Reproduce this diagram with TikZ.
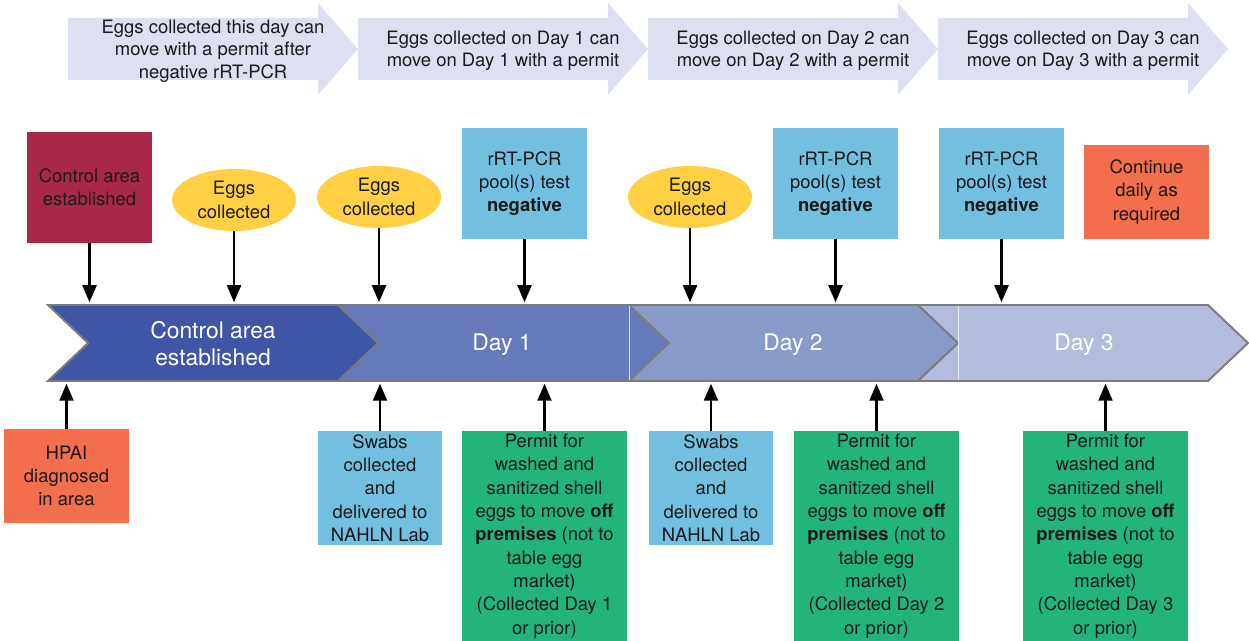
\documentclass[tikz,border=0pt]{standalone}
\usepackage{fontspec}
\setmainfont{TeX Gyre Heros}
\usetikzlibrary{arrows.meta,shapes.geometric}
\definecolor{bandlilac}{HTML}{DDE0F0}
\definecolor{ctrlred}{HTML}{A8284A}
\definecolor{eggyellow}{HTML}{FFD043}
\definecolor{pcrblue}{HTML}{72BFDF}
\definecolor{alertorange}{HTML}{F26E4C}
\definecolor{permitgreen}{HTML}{22B47B}
\definecolor{stagectrl}{HTML}{3F56A6}
\definecolor{dayA}{HTML}{6679BA}
\definecolor{dayB}{HTML}{8A9AC8}
\definecolor{dayC}{HTML}{B3BCDC}
\definecolor{stageedge}{HTML}{7B7B7B}
\definecolor{inkdark}{HTML}{1A1A1A}
\begin{document}
\begin{tikzpicture}[x=0.02cm, y=-0.02cm,
    every node/.style={font=\fontsize{10.5}{13.3}\selectfont, text=inkdark, align=center},
    band/.style={fill=bandlilac},
    stage/.style={draw=stageedge, line width=1.1pt, line join=miter},
    stagelabel/.style={text=white, font=\fontsize{13}{15.5}\selectfont},
    sqbox/.style={rectangle, inner sep=0pt, minimum width=2.5cm},
    eggs/.style={ellipse, fill=eggyellow, inner sep=0pt, minimum width=2.48cm, minimum height=1.24cm},
    conn/.style={line width=1.2pt, -{Triangle[length=3.4mm,width=2.8mm]}, shorten >=1pt}
  ]
  \useasboundingbox (0,0) rectangle (1249,641);

  % Permit windows along the top
  \foreach \x/\txt [count=\i] in {68/{Eggs collected this day can\\move with a permit after\\negative rRT-PCR},
      358/{Eggs collected on Day 1 can\\move on Day 1 with a permit},
      648/{Eggs collected on Day 2 can\\move on Day 2 with a permit},
      938/{Eggs collected on Day 3 can\\move on Day 3 with a permit}} {
      \fill[band] (\x,18) -- ++(250,0) -- ++(0,-15) -- ++(40,46) -- ++(-40,46) -- ++(0,-15) -- ++(-250,0) -- cycle;
      \node[font=\fontsize{10.5}{12.8}\selectfont] (move\i) at (\x+145,51) {\txt};
    }

  % Timeline stages (drawn right to left so each tip sits on top)
  \foreach \l/\r/\col in {918/1208/dayC, 629/918/dayB, 338/629/dayA} {
      \fill[\col] (\l,305) -- (\r,305) -- (\r+40,343) -- (\r,381) -- (\l,381) -- cycle;
      \draw[stage] (\l,305) -- (\r,305) -- (\r+40,343) -- (\r,381) -- (\l,381);
    }
  \draw[white!70!dayB, line width=0.5pt] (629,306) -- (629,380);
  \draw[white!70!dayC, line width=0.5pt] (958,306) -- (958,380);
  \draw[stage, fill=stagectrl] (48,305) -- (338,305) -- (378,343) -- (338,381) -- (48,381) -- (88,343) -- cycle;

  \node[stagelabel] (stage0) at (213,344) {Control area\\established};
  \node[stagelabel] (stage1) at (502,345) {Day 1};
  \node[stagelabel] (stage2) at (793,345) {Day 2};
  \node[stagelabel] (stage3) at (1084,345) {Day 3};

  \coordinate (tltop) at (0,304);
  \coordinate (tlbot) at (0,382);

  % Events above the timeline
  \node[sqbox, fill=ctrlred, minimum height=2.22cm] (ctrl) at (89.5,187.5) {Control area\\established};
  \node[eggs] (eggsA) at (234,200) {Eggs\\collected};
  \node[eggs] (eggsB) at (379,197) {Eggs\\collected};
  \node[sqbox, fill=pcrblue, minimum height=2.22cm] (pcrA) at (524.5,183.5) {rRT-PCR\\pool(s) test\\\textbf{negative}};
  \node[eggs] (eggsC) at (690,197) {Eggs\\collected};
  \node[sqbox, fill=pcrblue, minimum height=2.22cm] (pcrB) at (835.5,183.5) {rRT-PCR\\pool(s) test\\\textbf{negative}};
  \node[sqbox, fill=pcrblue, minimum height=2.22cm] (pcrC) at (1001.5,183.5) {rRT-PCR\\pool(s) test\\\textbf{negative}};
  \node[sqbox, fill=alertorange, minimum height=1.88cm] (cont) at (1146.5,192) {Continue\\daily as\\required};

  \foreach \n in {ctrl, eggsA, eggsB, pcrA, eggsC, pcrB, pcrC} {
      \draw[conn] (\n) -- (\n |- tltop);
    }

  % Events below the timeline
  \node[sqbox, fill=alertorange, minimum height=1.88cm] (hpai) at (66.5,476) {HPAI\\diagnosed\\in area};
  \node[sqbox, fill=pcrblue, minimum width=2.48cm, minimum height=2.28cm] (swabA) at (380,488) {Swabs\\collected\\and\\delivered to\\NAHLN Lab};
  \node[sqbox, fill=pcrblue, minimum width=2.48cm, minimum height=2.28cm] (swabB) at (711,488) {Swabs\\collected\\and\\delivered to\\NAHLN Lab};
  \foreach \n/\cx/\d in {permitA/544.5/1, permitB/876.5/2, permitC/1105.5/3} {
      \node[sqbox, fill=permitgreen, minimum width=3.3cm, minimum height=4.2cm] (\n) at (\cx,536)
        {Permit for\\washed and\\sanitized shell\\eggs to move \textbf{off}\\\textbf{premises} (not to\\table egg\\market)\\(Collected Day \d\\or prior)};
    }

  \foreach \n in {hpai, swabA, permitA, swabB, permitB, permitC} {
      \draw[conn] (\n) -- (\n |- tlbot);
    }
\end{tikzpicture}
\end{document}
